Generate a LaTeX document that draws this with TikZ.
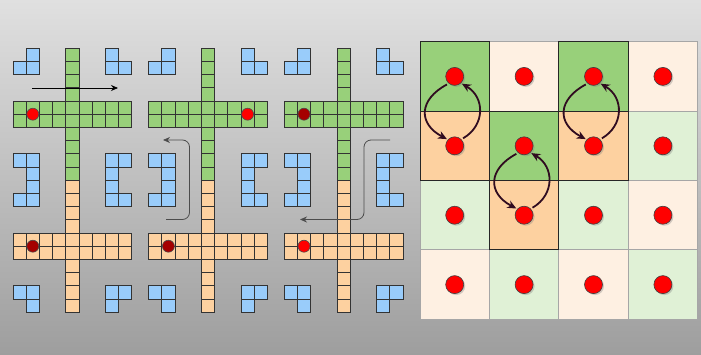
\documentclass[tikz,border=0pt]{standalone}
\usepackage{xcolor}
\usetikzlibrary{arrows.meta, shadows}
\definecolor{bgTop}{RGB}{224,224,224}
\definecolor{bgBot}{RGB}{158,158,158}
\definecolor{hkGreen}{RGB}{152,208,122}
\definecolor{hkOrange}{RGB}{253,209,160}
\definecolor{hkLtGreen}{RGB}{224,241,214}
\definecolor{hkLtOrange}{RGB}{254,240,226}
\definecolor{hkBlue}{RGB}{153,204,250}
\definecolor{hkRed}{RGB}{255,0,0}
\definecolor{hkDkRed}{RGB}{165,0,0}
\definecolor{hkSwap}{RGB}{48,12,32}

\begin{document}
\begin{tikzpicture}[
  x=1pt, y=-1pt,
  cell/.style={draw=black!80, line width=0.9pt},
  site/.style={
    circle, minimum size=12pt, inner sep=0pt,
    draw=black!70, line width=0.6pt
  },
  ion/.style={
    circle, minimum size=18pt, inner sep=0pt, fill=hkRed,
    draw=black!75, line width=0.6pt,
    drop shadow={shadow xshift=1.5pt, shadow yshift=-1.5pt, opacity=.35}
  },
  move/.style={-{Stealth[length=7pt,width=6pt]}, line width=0.8pt},
  swap/.style={
    draw=hkSwap, line width=1.8pt,
    -{Stealth[length=9pt,width=8pt]}
  }
]
\useasboundingbox (0,0) rectangle (701,355);
\shade[top color=bgTop, bottom color=bgBot] (0,0) rectangle (701,355);

% three crosses
\foreach \gx in {13, 148.6, 284.2} {
  \foreach \ry in {0,...,9}
    \draw[cell, fill=hkGreen] ({\gx+4*13.2},{48.2+\ry*13.2}) rectangle ++(13.2,13.2);
  \foreach \ry in {10,...,19}
    \draw[cell, fill=hkOrange] ({\gx+4*13.2},{48.2+\ry*13.2}) rectangle ++(13.2,13.2);
  \foreach \cx in {0,...,8} {
    \foreach \ry in {4,5}
      \draw[cell, fill=hkGreen] ({\gx+\cx*13.2},{48.2+\ry*13.2}) rectangle ++(13.2,13.2);
    \foreach \ry in {14,15}
      \draw[cell, fill=hkOrange] ({\gx+\cx*13.2},{48.2+\ry*13.2}) rectangle ++(13.2,13.2);
  }
  \foreach \cx/\ry in {1/0,0/1,1/1, 7/0,7/1,8/1,
      0/8,1/8,1/9,1/10,0/11,1/11, 7/8,8/8,7/9,7/10,7/11,8/11,
      0/18,1/18,1/19, 7/18,8/18,7/19}
    \draw[cell, fill=hkBlue] ({\gx+\cx*13.2},{48.2+\ry*13.2}) rectangle ++(13.2,13.2);
}

\node[site, fill=hkRed]   (g1) at (32.8,114.2) {};
\node[site, fill=hkDkRed] (o1) at (32.8,246.2) {};
\node[site, fill=hkRed]   (g2) at (247.6,114.2) {};
\node[site, fill=hkDkRed] (o2) at (168.4,246.2) {};
\node[site, fill=hkDkRed] (g3) at (304,114.2) {};
\node[site, fill=hkRed]   (o3) at (304,246.2) {};

% transport paths
\coordinate (m1s) at (32,88);
\coordinate (m1e) at (118,88);
\draw[move] (m1s) -- (m1e);

\coordinate (m2s) at (166,219.5);
\coordinate (m2t) at (189.5,180);
\coordinate (m2e) at (163,140);
\draw[move, draw=black!70, rounded corners=7pt] (m2s) -| (m2t) |- (m2e);

\coordinate (m3s) at (390,140);
\coordinate (m3t) at (364,180);
\coordinate (m3e) at (300,219.5);
\draw[move, draw=black!70, rounded corners=7pt] (m3s) -| (m3t) |- (m3e);

% lattice
\foreach \cx/\ry/\col in {1/0/hkLtOrange, 3/0/hkLtOrange, 3/1/hkLtGreen,
    0/2/hkLtGreen, 2/2/hkLtGreen, 3/2/hkLtOrange,
    0/3/hkLtOrange, 1/3/hkLtGreen, 2/3/hkLtOrange, 3/3/hkLtGreen}
  \draw[fill=\col, draw=black!35, line width=0.8pt]
    ({420+69.4*\cx},{41.7+69.4*\ry}) rectangle ++(69.4,69.4);
\foreach \cx/\ry/\col in {0/0/hkGreen, 2/0/hkGreen, 1/1/hkGreen,
    0/1/hkOrange, 2/1/hkOrange, 1/2/hkOrange}
  \draw[fill=\col, draw=black!85, line width=1pt]
    ({420+69.4*\cx},{41.7+69.4*\ry}) rectangle ++(69.4,69.4);

\foreach \cx in {0,...,3}
  \foreach \ry in {0,...,3}
    \node[ion] (s\cx\ry) at ({420+69.4*(\cx+.5)},{41.7+69.4*(\ry+.5)}) {};

\foreach \cx/\ra/\rb in {0/0/1, 2/0/1, 1/1/2} {
  \draw[swap, shorten <=2pt, shorten >=1pt]
    (s\cx\ra.230) .. controls +(-30,16) and +(-30,-16) .. (s\cx\rb.138);
  \draw[swap, shorten <=2pt, shorten >=1pt]
    (s\cx\rb.44) .. controls +(24,-14) and +(24,14) .. (s\cx\ra.313);
}
\end{tikzpicture}
\end{document}
